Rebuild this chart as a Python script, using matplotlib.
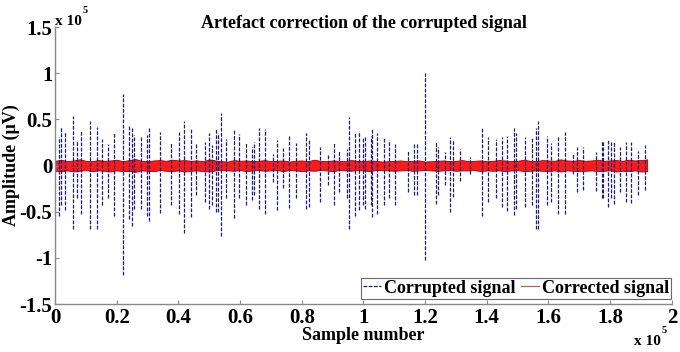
import numpy as np
import matplotlib
matplotlib.use('Agg')
import matplotlib.pyplot as plt
from matplotlib.lines import Line2D
import matplotlib.ticker as ticker

plt.rcParams.update({
    'font.family': 'Liberation Serif',
    'font.weight': 'bold',
    'font.size': 11,
})

# ── Corrupted signal: artefact spikes (sample index, top / bottom amplitude in uV) ──
spike_pos = [1400, 1900, 3200, 5700, 7000, 8300, 11300, 13500, 15100, 17300,
             19100, 21900, 24100, 24900, 25600, 27800, 29700, 30600,
             33900, 37600, 40200, 41900, 44100, 45600, 48600, 49900, 50800, 52100,
             52700, 53800, 55300, 58100, 59600, 61800, 63800, 64600, 66100,
             68000, 70600, 72100, 73800, 76000, 78100, 81400, 82400, 85900, 88600,
             90400, 92200, 94800, 95400, 97200, 98600, 99900,
             100500, 102400, 102900, 104400, 106500, 108300, 110200, 114300, 116500,
             117200, 119900, 123400, 124300, 126600, 128000, 129100, 131300,
             134500, 138600, 140500, 143000, 144800, 146400, 148800, 149400, 152400,
             154800, 155900, 156700, 159400, 160700, 163200, 165300, 167800,
             169100, 171300, 175300, 177200, 177700, 179400, 180400, 181300, 183100,
             185000, 186900, 188900, 191200]
spike_top = [31100, 42200, 36700, 54100, 27400, 38500, 47800, 42200, 29300, 23700,
             36700, 77400, 44100, 40400, 33000, 31100, 33000, 40400,
             36700, 25600, 36700, 47800, 40400, 23000, 25600, 35600, 21900, 40400,
             35600, 57000, 29300, 39300, 34100, 25600, 20700, 25600, 40400,
             39300, 12600, 27400, 19300, 31900, 24400, 35600, 27400, 20000, 12600,
             24400, 17000, 18100, 52600, 35600, 37800, 31100,
             31900, 31900, 39300, 35600, 31100, 27400, 23000, 16300, 23000,
             24400, 100700, 25600, 20000, 14400, 31100, 27400, 18100,
             8900, 40400, 31100, 29300, 31100, 31900, 40400, 34800, 31100,
             31100, 40400, 47800, 31900, 24400, 31900, 36700, 12600,
             20000, 20000, 14400, 26700, 25600, 28100, 25600, 25600, 20700,
             25600, 25600, 16300, 21900]
spike_bot = [-54100, -43000, -48500, -68900, -35600, -52200, -68900, -68900, -43000, -35600,
             -54100, -118900, -57800, -65200, -46700, -46700, -54100, -59600,
             -51100, -43000, -52200, -72600, -55900, -31900, -39300, -46700, -43000, -50400,
             -50400, -76300, -35600, -57000, -35600, -43000, -37400, -31900, -46700,
             -52200, -17800, -48500, -24400, -45900, -35600, -47400, -44800, -39300, -20700,
             -43000, -28100, -35600, -68900, -54100, -48500, -43000,
             -46700, -43000, -55900, -52200, -43000, -35600, -43000, -28100, -31900,
             -31900, -102200, -41100, -31900, -20700, -50400, -33700, -17000,
             -9600, -54100, -39300, -35600, -44800, -49600, -53300, -46700, -44800,
             -43000, -68900, -68900, -43000, -39300, -52200, -52200, -9600,
             -28100, -26300, -27400, -35600, -35600, -44800, -35600, -41100, -28100,
             -39300, -40000, -31900, -26300]

# ── Corrected signal: envelope of the residual EEG band (every 2000 samples) ──
corr_x = list(range(0, 192001, 2000))
corr_upper = [5200, 6400, 4800, 5600, 6800, 5200, 4800, 6000, 5200, 5600,
              6400, 4800, 6000, 7200, 5200, 4800, 5600, 6000, 5200, 6400,
              5600, 6000, 5200, 5600, 4800, 6800, 5600, 4800, 4400, 6000,
              5200, 5600, 4800, 5200, 6000, 4800, 5200, 5600, 4400, 5200,
              5600, 4800, 6400, 5200, 4800, 5600, 5200, 4800, 6000, 5200,
              4800, 5600, 5200, 4400, 4800, 5200, 5600, 4800, 5200, 5600,
              4400, 4800, 5200, 5600, 4800, 5200, 6000, 4800, 5200, 5600,
              4800, 5200, 6000, 5600, 4800, 5200, 6400, 5200, 4800, 6000,
              5600, 5200, 6800, 5600, 5200, 6000, 5200, 5600, 6400, 5200,
              5600, 6000, 5200, 6400, 5600, 6000, 6800]
corr_lower = [-5600, -6000, -5200, -6400, -5600, -4800, -6000, -5200, -5600, -6400,
              -5200, -6000, -5600, -6800, -5200, -5600, -6000, -4800, -5600, -6000,
              -5200, -6400, -5600, -5200, -6000, -6400, -5200, -4800, -5200, -5600,
              -4800, -6000, -5200, -4800, -5600, -5200, -4800, -6000, -4800, -5200,
              -6000, -5200, -5600, -4800, -5200, -6000, -4800, -5200, -5600, -4800,
              -5200, -6000, -4800, -4800, -5200, -5600, -5200, -4800, -5600, -5200,
              -4800, -5200, -5600, -5200, -4800, -5600, -5200, -5200, -4800, -6000,
              -5200, -5600, -5200, -6000, -5200, -4800, -6000, -5600, -5200, -5600,
              -6000, -5200, -6400, -5200, -5600, -6000, -5600, -5200, -6000, -5600,
              -5200, -6400, -5600, -6000, -5200, -6400, -6000]

fig = plt.figure(figsize=(6.8, 3.52), dpi=100)
ax = fig.add_axes([0.081, 0.136, 0.907, 0.787])

ax.vlines(spike_pos, spike_bot, spike_top, colors='#1c1c78', linewidth=0.9,
          linestyles=(0, (3, 1.2)))
ax.fill_between(corr_x, corr_lower, corr_upper, facecolor='#ff1a1a',
                edgecolor='#a00000', linewidth=0.6)

ax.set_xlim(0, 200000)
ax.set_ylim(-150000, 150000)
ax.set_xticks(np.arange(0, 200001, 20000))
ax.set_yticks(np.arange(-150000, 150001, 50000))
fmt = ticker.FuncFormatter(lambda v, p: f'{v / 1e5:g}')
ax.xaxis.set_major_formatter(fmt)
ax.yaxis.set_major_formatter(fmt)
ax.tick_params(direction='in', length=3, width=0.8, color='#888888', labelsize=15)
ax.tick_params(axis='x', pad=3)
ax.tick_params(axis='y', pad=2)
for s in ['top', 'right']:
    ax.spines[s].set_visible(False)
for s in ['left', 'bottom']:
    ax.spines[s].set_color('#888888')
    ax.spines[s].set_linewidth(1.0)

ax.text(0.5, 1.012, 'Artefact correction of the corrupted signal', transform=ax.transAxes,
        ha='center', va='center', fontsize=13, fontweight='bold')
ax.set_ylabel('Amplitude (\u03bcV)', fontsize=13, fontweight='bold', labelpad=0)
ax.set_xlabel('Sample number', fontsize=13, fontweight='bold', labelpad=-1)

# exponent labels
fig.text(0.081, 0.940, 'x 10', fontsize=11, fontweight='bold', va='center')
fig.text(0.121, 0.970, '5', fontsize=7.5, fontweight='bold', va='center')
fig.text(0.932, 0.031, 'x 10', fontsize=11, fontweight='bold', va='center')
fig.text(0.973, 0.062, '5', fontsize=7.5, fontweight='bold', va='center')

handles = [Line2D([], [], color='#1c1c78', lw=0.9, ls=(0, (3, 1.2))),
           Line2D([], [], color='#b06060', lw=0.9)]
leg = ax.legend(handles, ['Corrupted signal', 'Corrected signal'], ncol=2,
                loc='lower right', bbox_to_anchor=(0.998, 0.02), fontsize=13,
                frameon=True, fancybox=False, handlelength=1.0, handletextpad=0.15,
                columnspacing=0.3, borderpad=0.1, borderaxespad=0.0)
leg.get_frame().set_edgecolor('#444444')
leg.get_frame().set_linewidth(0.8)

fig.savefig('out.png', dpi=100)
